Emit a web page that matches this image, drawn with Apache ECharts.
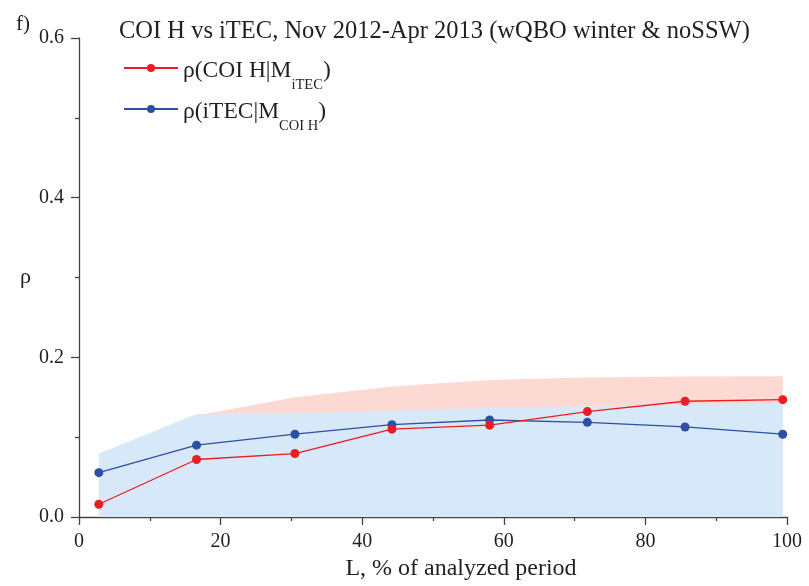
<!DOCTYPE html>
<html>
<head>
<meta charset="utf-8">
<script src="https://cdn.jsdelivr.net/npm/echarts@6/dist/echarts.min.js"></script>
<style>html,body{margin:0;padding:0;background:#fff}#c{width:809px;height:586px}</style>
</head>
<body>
<div id="c"></div>
<script>
var xL = [2.8, 16.6, 30.5, 44.2, 58.0, 71.8, 85.6, 99.4];
var rhoCoiH = [0.016, 0.072, 0.0795, 0.110, 0.115, 0.132, 0.145, 0.147];
var rhoITEC = [0.0555, 0.090, 0.1037, 0.1156, 0.1215, 0.1186, 0.1128, 0.1037];
var bandCoiH = [0.060, 0.127, 0.150, 0.1635, 0.1717, 0.1747, 0.176, 0.1763];
var bandITEC = [0.0795, 0.129, 0.130, 0.133, 0.1364, 0.1386, 0.1405, 0.1427];
var xTicks = [0, 20, 40, 60, 80, 100];
var yTicks = [0.0, 0.2, 0.4, 0.6];

function pairs(xs, ys) { return xs.map(function (x, i) { return [x, ys[i]]; }); }

var FONT = 'Liberation Serif';
var INK = '#231f20';
var nameRed = 'rhoCOIH';
var nameBlue = 'rhoITEC';

var chart = echarts.init(document.getElementById('c'), null, { renderer: 'canvas' });
var richLeg = {
  m: { fontFamily: FONT, fontSize: 23.5, color: INK, lineHeight: 26, verticalAlign: 'top', padding: [4, 0, 0, 0] },
  s: { fontFamily: FONT, fontSize: 14.5, color: INK, lineHeight: 14, verticalAlign: 'top', padding: [23, 0, 0, 0] }
};
function legFmt(n) {
  return n === nameRed ? '{m|ρ(COI H|M}{s|iTEC}{m|)}' : '{m|ρ(iTEC|M}{s|COI H}{m|)}';
}
chart.setOption({
  animation: false,
  backgroundColor: '#fff',
  title: {
    text: 'COI H vs iTEC, Nov 2012-Apr 2013 (wQBO winter & noSSW)',
    left: 119, top: 19, padding: 0,
    textStyle: { fontFamily: FONT, fontSize: 24.5, fontWeight: 'normal', color: INK }
  },
  graphic: [{
    type: 'text', left: 16, top: 14,
    style: { text: 'f)', font: '21px "Liberation Serif"', fill: INK }
  }],
  legend: [{
    data: [nameRed], left: 123, top: 55, padding: 0,
    itemWidth: 54, itemHeight: 10, formatter: legFmt,
    textStyle: { rich: richLeg }
  }, {
    data: [nameBlue], left: 123, top: 96, padding: 0,
    itemWidth: 54, itemHeight: 10, formatter: legFmt,
    textStyle: { rich: richLeg }
  }],
  grid: { left: 79, right: 22, top: 38, bottom: 67, containLabel: false },
  xAxis: {
    type: 'value', min: 0, max: 100, interval: 20,
    name: 'L, % of analyzed period', nameLocation: 'middle', nameGap: 40,
    nameTextStyle: { fontFamily: FONT, fontSize: 24, color: INK, padding: [0, 0, 0, 56] },
    axisLine: { lineStyle: { color: '#444', width: 1.3 } },
    axisTick: { inside: false, length: 8, lineStyle: { color: '#444', width: 1.3 } },
    minorTick: { show: true, splitNumber: 2, length: 4, lineStyle: { color: '#444', width: 1.3 } },
    splitLine: { show: false },
    axisLabel: { fontFamily: FONT, fontSize: 20, color: INK, margin: 15,
      formatter: function (v) { return xTicks.indexOf(v) >= 0 ? String(v) : ''; } }
  },
  yAxis: {
    type: 'value', min: 0, max: 0.6, interval: 0.2,
    name: 'ρ', nameLocation: 'middle', nameGap: 48, nameRotate: 0,
    nameTextStyle: { fontFamily: FONT, fontSize: 22, color: INK, padding: [10, 0, 0, 0] },
    axisLine: { show: true, lineStyle: { color: '#444', width: 1.3 } },
    axisTick: { show: true, inside: false, length: 8, lineStyle: { color: '#444', width: 1.3 } },
    minorTick: { show: true, splitNumber: 2, length: 4, lineStyle: { color: '#444', width: 1.3 } },
    splitLine: { show: false },
    axisLabel: { fontFamily: FONT, fontSize: 20, color: INK, margin: 15,
      formatter: function (v) { return v.toFixed(1); } }
  },
  series: [{
    name: 'bandCoiH', type: 'line', data: pairs(xL, bandCoiH), symbol: 'none',
    lineStyle: { width: 0 }, areaStyle: { color: '#fcd9d2', opacity: 1 }, z: 1, silent: true
  }, {
    name: 'bandITEC', type: 'line', data: pairs(xL, bandITEC), symbol: 'none',
    lineStyle: { width: 0 }, areaStyle: { color: '#d7e9f8', opacity: 1 }, z: 2, silent: true
  }, {
    name: nameBlue, type: 'line', data: pairs(xL, rhoITEC), symbol: 'circle', symbolSize: 9,
    itemStyle: { color: '#2e4fa3' }, lineStyle: { color: '#2e4fa3', width: 1.3 }, z: 3
  }, {
    name: nameRed, type: 'line', data: pairs(xL, rhoCoiH), symbol: 'circle', symbolSize: 9,
    itemStyle: { color: '#ed1c24' }, lineStyle: { color: '#ed1c24', width: 1.3 }, z: 4
  }]
});
</script>
</body>
</html>
